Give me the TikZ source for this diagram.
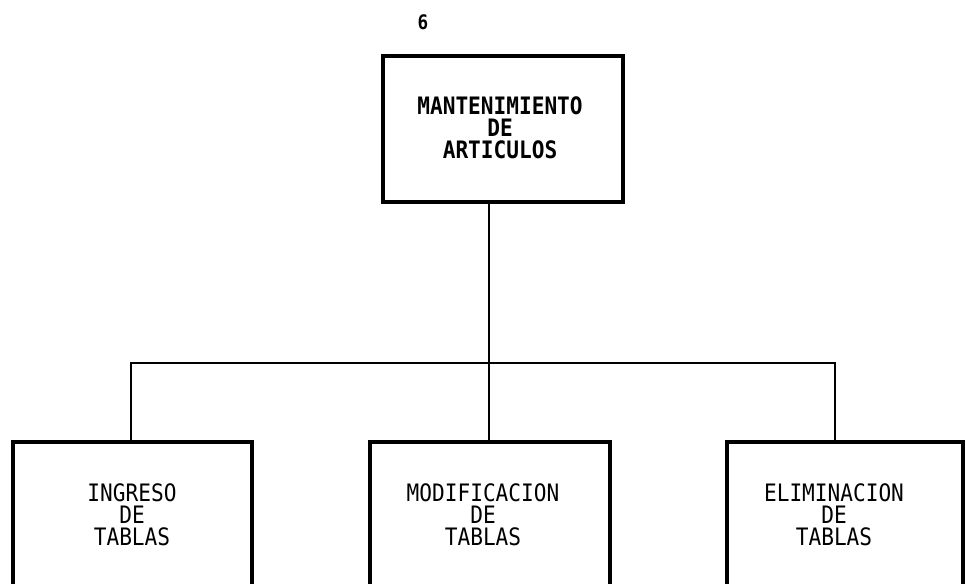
\documentclass[tikz,border=0pt]{standalone}
\usepackage{fontspec}
\newfontfamily\monofam[FakeStretch=0.88]{DejaVu Sans Mono}
\begin{document}
\begin{tikzpicture}[x=0.75pt,y=-0.75pt,
  box/.style={draw,line width=3pt,rectangle,minimum height=109.5pt,inner sep=0pt},
  lbl/.style={font=\monofam\fontsize{18}{16.5}\selectfont,align=center,inner sep=0pt},
  conn/.style={line width=1.3pt}]
\useasboundingbox (0,0) rectangle (966,583);
\clip (0,0) rectangle (966,583);
% page number
\node[font=\monofam\bfseries\fontsize{15}{15}\selectfont,inner sep=0pt] (pg) at (423,22) {6};
% top box
\node[box,minimum width=180pt] (top) at (503,129) {};
\node[lbl,font=\monofam\bfseries\fontsize{18}{16.5}\selectfont] (ttop) at (500,128) {MANTENIMIENTO\\DE\\ARTICULOS};
% bottom boxes
\node[box,minimum width=179.25pt] (b1) at (132.5,515) {};
\node[lbl] (t1) at (132,515) {INGRESO\\DE\\TABLAS};
\node[box,minimum width=180pt] (b2) at (490,515) {};
\node[lbl] (t2) at (483,515) {MODIFICACION\\DE\\TABLAS};
\node[box,minimum width=177pt] (b3) at (845,515) {};
\node[lbl] (t3) at (834,515) {ELIMINACION\\DE\\TABLAS};
% connectors
\coordinate (j) at (489,363);
\coordinate (hl) at (131,363);
\coordinate (hr) at (835,363);
\draw[conn] (j |- top.south) -- (j |- b2.north);
\draw[conn] (hl |- b1.north) -- (hl) -- (hr) -- (hr |- b3.north);
\end{tikzpicture}
\end{document}
